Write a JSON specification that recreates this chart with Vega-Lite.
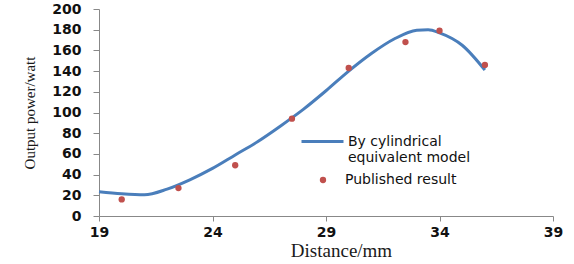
{
  "$schema": "https://vega.github.io/schema/vega-lite/v6.json",
  "width": 454,
  "height": 207,
  "autosize": {"type": "none"},
  "padding": {"left": 99, "top": 9, "right": 21, "bottom": 48},
  "background": "white",
  "config": {
    "view": {"stroke": null},
    "axis": {
      "grid": false,
      "domainColor": "#888888",
      "tickColor": "#888888",
      "labelFont": "DejaVu Sans",
      "labelFontWeight": "bold",
      "labelFontSize": 14,
      "labelColor": "#111111",
      "labelFlush": false,
      "titleFont": "Liberation Serif",
      "titleFontWeight": "normal",
      "titleColor": "#1a1a1a"
    },
    "legend": {
      "labelFont": "DejaVu Sans",
      "labelFontSize": 14,
      "labelColor": "#111111",
      "padding": 0
    }
  },
  "datasets": {
    "model": [
      {"distance": 19, "power": 23.5, "series": "By cylindrical equivalent model"},
      {"distance": 20, "power": 21.5, "series": "By cylindrical equivalent model"},
      {"distance": 21, "power": 20.5, "series": "By cylindrical equivalent model"},
      {"distance": 22, "power": 26, "series": "By cylindrical equivalent model"},
      {"distance": 23, "power": 35, "series": "By cylindrical equivalent model"},
      {"distance": 24, "power": 46, "series": "By cylindrical equivalent model"},
      {"distance": 25, "power": 59, "series": "By cylindrical equivalent model"},
      {"distance": 26, "power": 72, "series": "By cylindrical equivalent model"},
      {"distance": 27, "power": 87, "series": "By cylindrical equivalent model"},
      {"distance": 28, "power": 103, "series": "By cylindrical equivalent model"},
      {"distance": 29, "power": 121, "series": "By cylindrical equivalent model"},
      {"distance": 30, "power": 140, "series": "By cylindrical equivalent model"},
      {"distance": 31, "power": 157, "series": "By cylindrical equivalent model"},
      {"distance": 32, "power": 171, "series": "By cylindrical equivalent model"},
      {"distance": 33, "power": 179.5, "series": "By cylindrical equivalent model"},
      {"distance": 33.5, "power": 180, "series": "By cylindrical equivalent model"},
      {"distance": 34, "power": 177, "series": "By cylindrical equivalent model"},
      {"distance": 35, "power": 165, "series": "By cylindrical equivalent model"},
      {"distance": 36, "power": 141, "series": "By cylindrical equivalent model"}
    ],
    "published": [
      {"distance": 20, "power": 16, "series": "Published result"},
      {"distance": 22.5, "power": 27, "series": "Published result"},
      {"distance": 25, "power": 49, "series": "Published result"},
      {"distance": 27.5, "power": 94, "series": "Published result"},
      {"distance": 30, "power": 143, "series": "Published result"},
      {"distance": 32.5, "power": 168, "series": "Published result"},
      {"distance": 34, "power": 179, "series": "Published result"},
      {"distance": 36, "power": 146, "series": "Published result"}
    ]
  },
  "encoding": {
    "x": {
      "field": "distance",
      "type": "quantitative",
      "scale": {"domain": [19, 39], "nice": false, "zero": false},
      "axis": {
        "title": "Distance/mm",
        "values": [19, 24, 29, 34, 39],
        "tickSize": 5,
        "labelPadding": 4,
        "titleFontSize": 19,
        "titleX": 242,
        "titleY": 34,
        "titleBaseline": "middle"
      }
    },
    "y": {
      "field": "power",
      "type": "quantitative",
      "scale": {"domain": [0, 200], "nice": false},
      "axis": {
        "title": "Output power/watt",
        "values": [0, 20, 40, 60, 80, 100, 120, 140, 160, 180, 200],
        "tickSize": 6,
        "labelPadding": 12,
        "titleFontSize": 15,
        "titlePadding": 14
      }
    }
  },
  "layer": [
    {
      "data": {"name": "model"},
      "mark": {"type": "line", "interpolate": "monotone", "strokeWidth": 3},
      "encoding": {
        "stroke": {
          "field": "series",
          "type": "nominal",
          "scale": {"range": ["#4a7ebb"]},
          "legend": {
            "title": null,
            "orient": "none",
            "legendX": 201,
            "legendY": 110,
            "symbolType": "stroke",
            "symbolSize": 1764,
            "symbolStrokeWidth": 3,
            "labelOffset": 3,
            "labelLimit": 300,
            "labelExpr": "datum.label == 'By cylindrical equivalent model' ? ['By cylindrical', 'equivalent model'] : datum.label"
          }
        }
      }
    },
    {
      "data": {"name": "published"},
      "mark": {"type": "point", "filled": true, "size": 40, "opacity": 1},
      "encoding": {
        "color": {
          "field": "series",
          "type": "nominal",
          "scale": {"range": ["#c0504d"]},
          "legend": {
            "title": null,
            "orient": "none",
            "legendX": 217,
            "legendY": 164,
            "symbolType": "circle",
            "symbolSize": 40,
            "symbolOpacity": 1,
            "labelOffset": 15
          }
        }
      }
    }
  ]
}
